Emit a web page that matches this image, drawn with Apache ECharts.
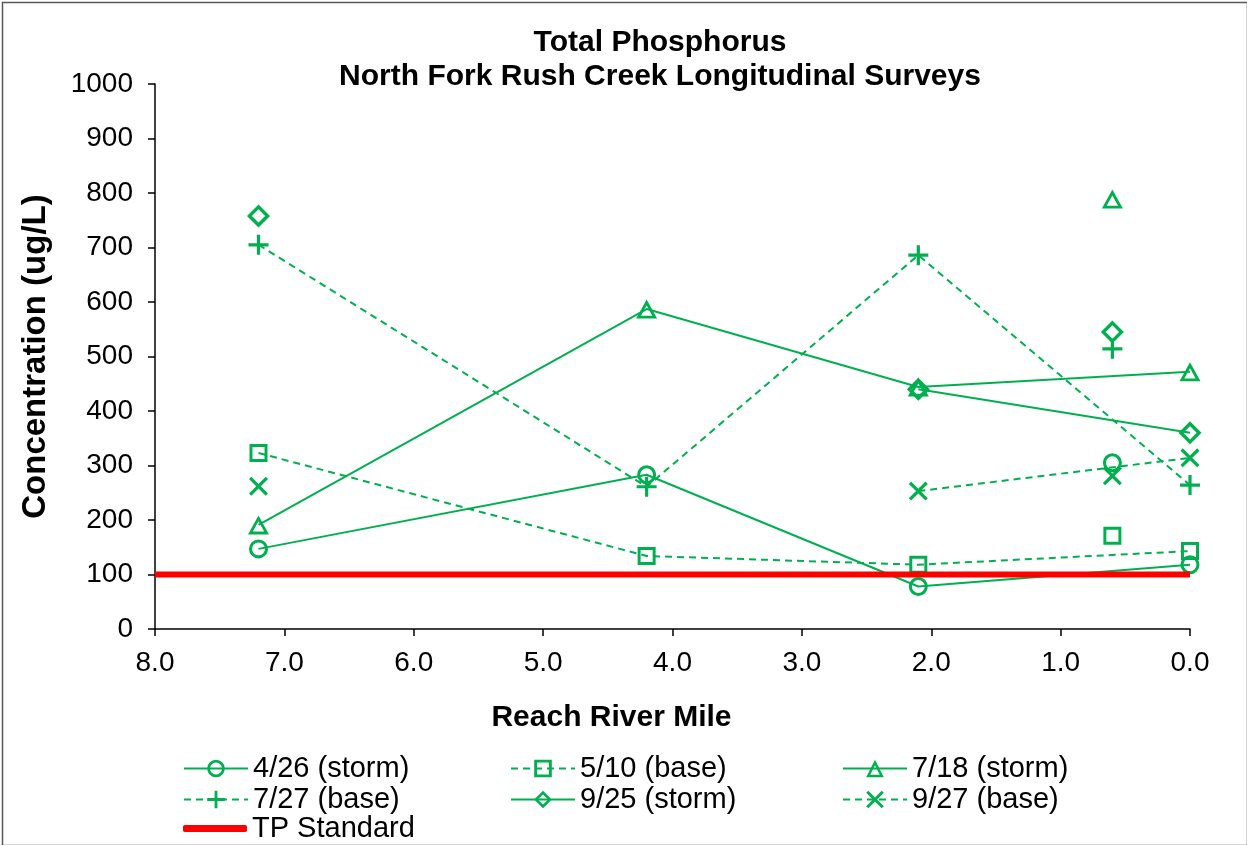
<!DOCTYPE html>
<html>
<head>
<meta charset="utf-8">
<script src="https://cdn.jsdelivr.net/npm/echarts@6/dist/echarts.min.js"></script>
<style>
html,body{margin:0;padding:0;background:#fff;}
#chart{width:1247px;height:845px;}
</style>
</head>
<body>
<div id="chart"></div>
<script>
// ---- data ----
const titleLines = ['Total Phosphorus', 'North Fork Rush Creek Longitudinal Surveys'];
const xAxisName = 'Reach River Mile';
const yAxisName = 'Concentration (ug/L)';
const mainStemMiles = [7.2, 4.2, 2.1, 0.0];
const tributaryMiles = [0.6];
const names = ['4/26 (storm)', '5/10 (base)', '7/18 (storm)', '7/27 (base)', '9/25 (storm)', '9/27 (base)'];
const tp0426 = [147, 283, 78, 118];
const tp0510 = [323, 134, 118, 143];
const tp0718 = [191, 587, 444, 472];
const tp0727 = [705, 261, 686, 264];
const tp0925 = [758, null, 440, 360];
const tp0927 = [262, null, 253, 314];
const trib0426 = [305];
const trib0510 = [171];
const trib0718 = [789];
const trib0727 = [514];
const trib0925 = [545];
const trib0927 = [281];
const standardName = 'TP Standard';
const standardMiles = [8.0, 0.0];
const standardValue = [100, 100];
const xTicks = [0, 1, 2, 3, 4, 5, 6, 7, 8];
const yTicks = [0, 100, 200, 300, 400, 500, 600, 700, 800, 900, 1000];

// ---- styles ----
const green = '#00B050';
const circleRing = 'path://M0,10A10,10 0 1,1 20,10A10,10 0 1,1 0,10ZM3.2,10A6.8,6.8 0 1,0 16.8,10A6.8,6.8 0 1,0 3.2,10Z';
const rectRing = 'path://M0,0H20V20H0ZM3.3,3.3V16.7H16.7V3.3Z';
const triRing = 'path://M10,0L20,18L0,18ZM10,5.6L4.6,15.3L15.4,15.3Z';
const diamondRing = 'path://M10,0L20,10L10,20L0,10ZM10,4.2L4.2,10L10,15.8L15.8,10Z';
const plusPath = 'path://M4.2,0H5.8V4.2H10V5.8H5.8V10H4.2V5.8H0V4.2H4.2Z';
const xPath = 'path://M0,1.2L1.2,0L5,3.8L8.8,0L10,1.2L6.2,5L10,8.8L8.8,10L5,6.2L1.2,10L0,8.8L3.8,5Z';
const mainData = [tp0426, tp0510, tp0718, tp0727, tp0925, tp0927];
const tribData = [trib0426, trib0510, trib0718, trib0727, trib0925, trib0927];
const symbols = [circleRing, rectRing, triRing, plusPath, diamondRing, xPath];
const symbolSizes = [19, 18, [21, 19], 20, 23, 19];
const dashed = [false, true, false, true, false, true];

const pair = (xs, ys) => xs.map((x, i) => [x, ys[i] == null ? '-' : ys[i]]);

const series = [];
names.forEach((n, i) => {
  series.push({
    name: n, type: 'line', data: pair(mainStemMiles, mainData[i]),
    symbol: symbols[i], symbolSize: symbolSizes[i], showAllSymbol: true,
    connectNulls: false, color: green,
    lineStyle: {color: green, width: 2, type: dashed[i] ? [7, 5] : 'solid'},
    itemStyle: {color: green, borderWidth: 0},
    emphasis: {disabled: true}, animation: false, z: 2
  });
});
names.forEach((n, i) => {
  series.push({
    name: n, type: 'scatter', data: pair(tributaryMiles, tribData[i]),
    symbol: symbols[i], symbolSize: symbolSizes[i], color: green,
    itemStyle: {color: green, borderWidth: 0, opacity: 1},
    emphasis: {disabled: true}, animation: false, z: 2
  });
});
series.push({
  name: standardName, type: 'line', data: pair(standardMiles, standardValue),
  symbol: 'none', color: '#FF0000',
  lineStyle: {color: '#FF0000', width: 6},
  itemStyle: {color: '#FF0000'},
  emphasis: {disabled: true}, animation: false, z: 3
});

const font = 'Liberation Sans, Arial, sans-serif';
const legendText = {fontFamily: font, fontSize: 29, color: '#000', lineHeight: 28};
const legendBase = {orient: 'vertical', itemWidth: 64, itemHeight: 22, itemGap: 2, padding: 0,
  textStyle: legendText, selectedMode: false, inactiveColor: green};

const chart = echarts.init(document.getElementById('chart'), null, {renderer: 'canvas'});
chart.setOption({
  backgroundColor: '#fff',
  animation: false,
  title: {
    text: titleLines.join('\n'), left: 660, top: 26, textAlign: 'center', padding: 0,
    textStyle: {fontFamily: font, fontSize: 30, fontWeight: 'bold', color: '#000', lineHeight: 34}
  },
  grid: {left: 155, right: 57, top: 84, bottom: 216, containLabel: false},
  xAxis: {
    type: 'value', inverse: true, min: xTicks[0], max: xTicks[xTicks.length - 1], interval: 1,
    name: xAxisName, nameLocation: 'middle', nameGap: 74,
    nameTextStyle: {fontFamily: font, fontSize: 30, fontWeight: 'bold', color: '#000', padding: [0, 122, 0, 0]},
    axisLine: {show: true, onZero: false, lineStyle: {color: '#000', width: 1.5}},
    axisTick: {show: true, length: 7, lineStyle: {color: '#000', width: 1.5}},
    axisLabel: {margin: 20, fontFamily: font, fontSize: 28, color: '#000', formatter: v => v.toFixed(1)},
    splitLine: {show: false}
  },
  yAxis: {
    type: 'value', min: yTicks[0], max: yTicks[yTicks.length - 1], interval: 100,
    name: yAxisName, nameLocation: 'middle', nameGap: 103,
    nameTextStyle: {fontFamily: font, fontSize: 33, fontWeight: 'bold', color: '#000'},
    axisLine: {show: true, onZero: false, lineStyle: {color: '#000', width: 1.5}},
    axisTick: {show: true, length: 7, lineStyle: {color: '#000', width: 1.5}},
    axisLabel: {margin: 22, fontFamily: font, fontSize: 28, color: '#000', formatter: v => String(v)},
    splitLine: {show: false}
  },
  legend: [
    Object.assign({}, legendBase, {left: 183, top: 754, data: [names[0], names[3]]}),
    Object.assign({}, legendBase, {left: 510, top: 754, data: [names[1], names[4]]}),
    Object.assign({}, legendBase, {left: 842, top: 754, data: [names[2], names[5]]}),
    Object.assign({}, legendBase, {left: 183, top: 814, itemHeight: 7, data: [{name: standardName, icon: 'roundRect'}]})
  ],
  graphic: [{
    type: 'rect', left: 0, top: 0, silent: true,
    shape: {x: 0, y: 0, width: 1245, height: 843},
    style: {fill: 'none', stroke: '#595959', lineWidth: 1.5}
  }],
  series: series
});
</script>
</body>
</html>
